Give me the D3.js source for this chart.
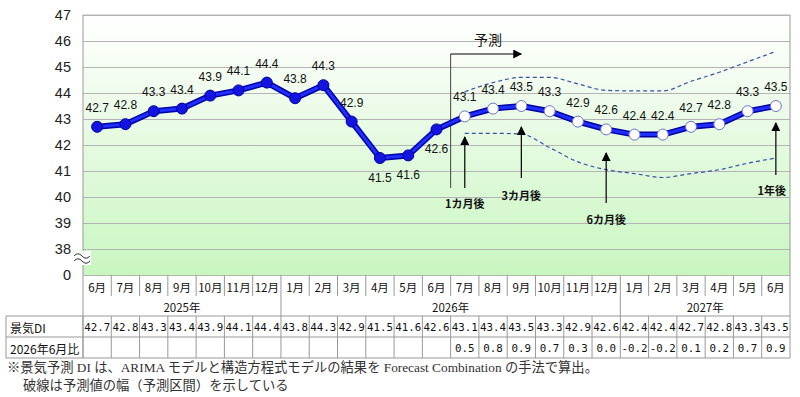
<!DOCTYPE html>
<html>
<head>
<meta charset="utf-8">
<script src="https://cdn.jsdelivr.net/npm/d3@7"></script>
<style>
  body { margin: 0; background: #fff; }
  svg { display: block; }
</style>
</head>
<body>
<svg width="800" height="397"></svg>
<script>
// months along the x axis, 2025/06 - 2027/06
var months = ["6月","7月","8月","9月","10月","11月","12月",
              "1月","2月","3月","4月","5月","6月","7月","8月","9月","10月","11月","12月",
              "1月","2月","3月","4月","5月","6月"];
var yearLabels = ["2025年", "2026年", "2027年"];
var yearSpans = [7, 12, 6];

// actual DI (2025/06 - 2026/06) and forecast (2026/07 - 2027/06)
var actual   = [42.7, 42.8, 43.3, 43.4, 43.9, 44.1, 44.4, 43.8, 44.3, 42.9, 41.5, 41.6, 42.6];
var forecast = [43.1, 43.4, 43.5, 43.3, 42.9, 42.6, 42.4, 42.4, 42.7, 42.8, 43.3, 43.5];
// forecast interval (dashed lines)
var upper = [44.05, 44.4, 44.6, 44.6, 44.35, 44.1, 44.08, 44.08, 44.45, 44.8, 45.2, 45.6];
var lower = [42.45, 42.45, 42.42, 41.9, 41.35, 41.05, 40.9, 40.75, 40.9, 41.05, 41.3, 41.5];
// change vs 2026/06
var change = [0.5, 0.8, 0.9, 0.7, 0.3, 0.0, -0.2, -0.2, 0.1, 0.2, 0.7, 0.9];

var yTicks = [37, 38, 39, 40, 41, 42, 43, 44, 45, 46, 47]; // 37 is shown as "0" (axis break)
var belowLabels = [10, 11, 12];
var callouts = [
  { i: 13, top: 137, bottom: 188, text: "1カ月後", ty: 203 },
  { i: 15, top: 127, bottom: 178, text: "3カ月後", ty: 195 },
  { i: 18, top: 153, bottom: 203, text: "6カ月後", ty: 219 },
  { i: 24, top: 123, bottom: 175, text: "1年後", ty: 190, dx: -4 }
];

var all = actual.concat(forecast);

var svg = d3.select("svg");
var pL = 83, pR = 790, pT = 15, pB = 275;

var x = d3.scaleBand().domain(d3.range(months.length)).range([pL, pR]).paddingInner(0).paddingOuter(0);
var y = d3.scaleLinear().domain([37, 47]).range([pB, pT]);
var cx = function(i) { return x(i) + x.bandwidth() / 2; };

var jp = "'Noto Sans CJK JP', 'Noto Sans', sans-serif";
var num = "'Liberation Sans', Arial, sans-serif";
var mono = "'DejaVu Sans Mono', monospace";

// background gradient
var defs = svg.append("defs");
var grad = defs.append("linearGradient").attr("id", "bg").attr("x1", 0).attr("y1", 0).attr("x2", 0).attr("y2", 1);
grad.append("stop").attr("offset", "0%").attr("stop-color", "#ffffff");
grad.append("stop").attr("offset", "18%").attr("stop-color", "#f6fdf4");
grad.append("stop").attr("offset", "100%").attr("stop-color", "#c9f6c1");
defs.append("marker").attr("id", "arr").attr("viewBox", "0 0 10 10").attr("refX", 9).attr("refY", 5)
  .attr("markerWidth", 9).attr("markerHeight", 9).attr("markerUnits", "userSpaceOnUse").attr("orient", "auto")
  .append("path").attr("d", "M0,0 L10,5 L0,10 z").attr("fill", "#000");

svg.append("rect").attr("x", pL).attr("y", pT).attr("width", pR - pL).attr("height", pB - pT)
  .attr("fill", "url(#bg)");

// gridlines + y labels
var yAxis = d3.axisLeft(y).tickValues(yTicks).tickSize(-(pR - pL))
  .tickFormat(function(d) { return d === 37 ? "0" : d; });
var gy = svg.append("g").attr("transform", "translate(" + pL + ",0)").call(yAxis);
gy.select(".domain").remove();
gy.selectAll(".tick line").attr("stroke", "#b4b4b4");
gy.selectAll(".tick text").attr("x", -12).attr("font-size", 14.5).attr("font-family", num).attr("fill", "#222");

// frame
svg.append("line").attr("x1", pL).attr("x2", pR).attr("y1", pT).attr("y2", pT).attr("stroke", "#b4b4b4");
svg.append("line").attr("x1", pR).attr("x2", pR).attr("y1", pT).attr("y2", 358).attr("stroke", "#999");
svg.append("line").attr("x1", pL).attr("x2", pL).attr("y1", pT).attr("y2", 358).attr("stroke", "#999");

// axis break mark
svg.append("rect").attr("x", 75).attr("y", 251).attr("width", 16).attr("height", 14).attr("fill", "#fff");
[0, 5].forEach(function(o) {
  svg.append("path").attr("d", "M74," + (256 + o) + " q4,-4.5 8,0 t8,0")
    .attr("fill", "none").attr("stroke", "#333").attr("stroke-width", 1);
});

// forecast marker
svg.append("line").attr("x1", x(13)).attr("x2", x(13)).attr("y1", 54).attr("y2", 188).attr("stroke", "#444");
svg.append("line").attr("x1", x(13)).attr("x2", cx(15)).attr("y1", 54).attr("y2", 54)
  .attr("stroke", "#000").attr("marker-end", "url(#arr)");
svg.append("text").attr("x", (x(13) + cx(15)) / 2 + 2).attr("y", 45).attr("text-anchor", "middle")
  .attr("font-size", 14).attr("font-family", jp).attr("fill", "#111").text("予測");

// interval dashed lines
var band = d3.line().x(function(d, k) { return cx(k + 13); }).y(function(d) { return y(d); }).curve(d3.curveMonotoneX);
[upper, lower].forEach(function(arr) {
  svg.append("path").attr("d", band(arr)).attr("fill", "none").attr("stroke", "#3a4fa8")
    .attr("stroke-width", 1.2).attr("stroke-dasharray", "4,3");
});

// callout arrows
callouts.forEach(function(c) {
  svg.append("line").attr("x1", cx(c.i)).attr("x2", cx(c.i)).attr("y1", c.bottom).attr("y2", c.top)
    .attr("stroke", "#000").attr("stroke-width", 1.2).attr("marker-end", "url(#arr)");
  svg.append("text").attr("x", cx(c.i) + (c.dx || 0)).attr("y", c.ty).attr("text-anchor", "middle")
    .attr("dominant-baseline", "central").attr("font-size", 11).attr("font-weight", "bold")
    .attr("font-family", jp).attr("fill", "#111").text(c.text);
});

// DI line
var line = d3.line().x(function(d, i) { return cx(i); }).y(function(d) { return y(d); });
svg.append("path").attr("d", line(all)).attr("fill", "none").attr("stroke", "#0000a8").attr("stroke-width", 6)
  .attr("stroke-linejoin", "round");
svg.append("path").attr("d", line(all)).attr("fill", "none").attr("stroke", "#1f2fff").attr("stroke-width", 3)
  .attr("stroke-linejoin", "round");

svg.selectAll("circle.act").data(actual).enter().append("circle").attr("class", "act")
  .attr("cx", function(d, i) { return cx(i); }).attr("cy", function(d) { return y(d); })
  .attr("r", 5.5).attr("fill", "#1414e0").attr("stroke", "#0000a0").attr("stroke-width", 1);
svg.selectAll("circle.fc").data(forecast).enter().append("circle").attr("class", "fc")
  .attr("cx", function(d, i) { return cx(i + 13); }).attr("cy", function(d) { return y(d); })
  .attr("r", 5.5).attr("fill", "#fff").attr("stroke", "#6a74c8").attr("stroke-width", 1);

// value labels
svg.selectAll("text.val").data(all).enter().append("text").attr("class", "val")
  .attr("x", function(d, i) { return cx(i); })
  .attr("y", function(d, i) { return y(d) + (belowLabels.indexOf(i) >= 0 ? 20 : -19); })
  .attr("text-anchor", "middle").attr("dominant-baseline", "central")
  .attr("font-size", 12).attr("font-family", num).attr("fill", "#111")
  .text(function(d) { return d.toFixed(1); });

// table
var rowY = [275, 296, 316, 337, 358];
var tline = function(x1, x2, y1, y2) {
  svg.append("line").attr("x1", x1).attr("x2", x2).attr("y1", y1).attr("y2", y2).attr("stroke", "#999");
};
months.forEach(function(m, i) {
  if (i > 0) tline(x(i), x(i), rowY[0], rowY[1]);
  tline(x(i), x(i), rowY[2], rowY[4]);
  svg.append("text").attr("x", cx(i)).attr("y", (rowY[0] + rowY[1]) / 2 + 1).attr("text-anchor", "middle")
    .attr("dominant-baseline", "central").attr("font-size", 11.5).attr("font-family", jp).attr("fill", "#111").text(m);
  svg.append("text").attr("x", cx(i)).attr("y", (rowY[2] + rowY[3]) / 2 + 1).attr("text-anchor", "middle")
    .attr("dominant-baseline", "central").attr("font-size", 10.8).attr("font-family", mono)
    .attr("fill", "#111").text(all[i].toFixed(1));
});
change.forEach(function(c, k) {
  svg.append("text").attr("x", cx(k + 13)).attr("y", (rowY[3] + rowY[4]) / 2 + 1).attr("text-anchor", "middle")
    .attr("dominant-baseline", "central").attr("font-size", 10.8).attr("font-family", mono)
    .attr("fill", "#111").text(c.toFixed(1));
});
var start = 0;
yearLabels.forEach(function(lab, j) {
  var x0 = x(start), x1 = start + yearSpans[j] < months.length ? x(start + yearSpans[j]) : pR;
  if (j > 0) tline(x0, x0, rowY[1], rowY[2]);
  svg.append("text").attr("x", (x0 + x1) / 2).attr("y", (rowY[1] + rowY[2]) / 2 + 1).attr("text-anchor", "middle")
    .attr("dominant-baseline", "central").attr("font-size", 11.5).attr("font-family", jp).attr("fill", "#111").text(lab);
  start += yearSpans[j];
});
tline(6, pR, rowY[2], rowY[2]);
tline(6, pR, rowY[3], rowY[3]);
tline(6, pR, rowY[4], rowY[4]);
tline(6, 6, rowY[2], rowY[4]);
svg.append("text").attr("x", 10).attr("y", (rowY[2] + rowY[3]) / 2 + 1).attr("dominant-baseline", "central")
  .attr("font-size", 12).attr("font-family", jp).attr("fill", "#111").text("景気DI");
svg.append("text").attr("x", 10).attr("y", (rowY[3] + rowY[4]) / 2 + 1).attr("dominant-baseline", "central")
  .attr("font-size", 12).attr("font-family", jp).attr("fill", "#111").text("2026年6月比");

// notes
var serif = "'Liberation Serif', 'DejaVu Serif', 'Noto Sans CJK JP', serif";
svg.append("text").attr("x", 7).attr("y", 367).attr("dominant-baseline", "central").attr("font-size", 13.3)
  .attr("font-family", serif).attr("fill", "#333")
  .text("※景気予測 DI は、ARIMA モデルと構造方程式モデルの結果を Forecast Combination の手法で算出。");
svg.append("text").attr("x", 23).attr("y", 385).attr("dominant-baseline", "central").attr("font-size", 13.3)
  .attr("font-family", serif).attr("fill", "#333")
  .text("破線は予測値の幅（予測区間）を示している");
</script>
</body>
</html>
